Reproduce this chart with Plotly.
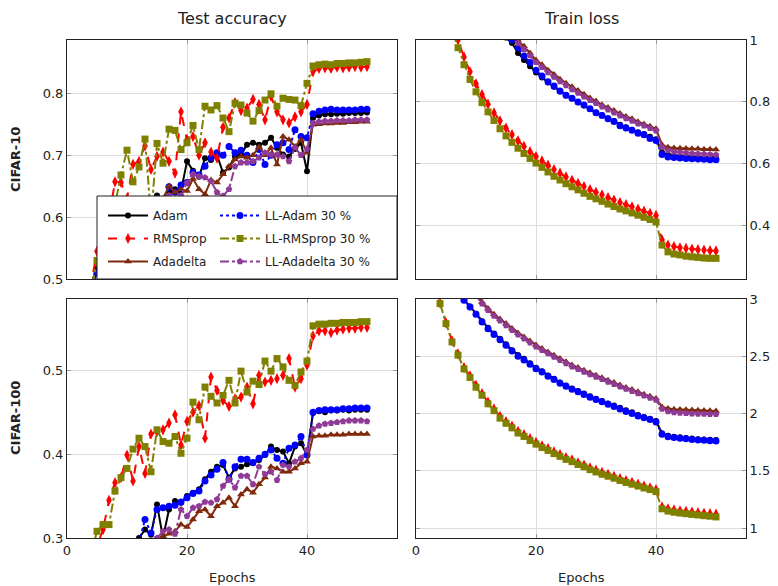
import plotly.graph_objects as go

epochs = list(range(1, 51))

# ---------- CIFAR-10 test accuracy ----------
adam_acc10 = [0.35, 0.42, 0.46, 0.49, 0.52, 0.54, 0.56, 0.57, 0.58, 0.59, 0.60, 0.60, 0.61, 0.62, 0.635, 0.62, 0.64, 0.645, 0.642, 0.69,
              0.675, 0.665, 0.695, 0.692, 0.70, 0.672, 0.68, 0.698, 0.701, 0.717, 0.72, 0.717, 0.72, 0.728, 0.712, 0.701, 0.698, 0.71, 0.72, 0.674,
              0.760, 0.764, 0.766, 0.766, 0.767, 0.767, 0.768, 0.768, 0.768, 0.769]
ll_adam_acc10 = [0.33, 0.40, 0.45, 0.48, 0.51, 0.53, 0.55, 0.56, 0.57, 0.58, 0.59, 0.59, 0.60, 0.60, 0.61, 0.62, 0.649, 0.64, 0.652, 0.656,
                 0.672, 0.668, 0.682, 0.696, 0.704, 0.70, 0.714, 0.704, 0.708, 0.70, 0.688, 0.709, 0.685, 0.70, 0.717, 0.72, 0.709, 0.741, 0.73, 0.728,
                 0.767, 0.771, 0.773, 0.774, 0.773, 0.773, 0.773, 0.773, 0.774, 0.774]
rmsprop_acc10 = [0.40, 0.44, 0.47, 0.49, 0.545, 0.52, 0.60, 0.657, 0.656, 0.63, 0.685, 0.69, 0.715, 0.677, 0.698, 0.705, 0.69, 0.671, 0.77, 0.725,
                 0.73, 0.70, 0.72, 0.705, 0.695, 0.745, 0.76, 0.785, 0.772, 0.776, 0.79, 0.782, 0.757, 0.795, 0.77, 0.757, 0.752, 0.762, 0.77, 0.782,
                 0.835, 0.840, 0.841, 0.840, 0.842, 0.841, 0.842, 0.843, 0.842, 0.843]
ll_rmsprop_acc10 = [0.38, 0.42, 0.45, 0.48, 0.53, 0.50, 0.57, 0.62, 0.668, 0.708, 0.657, 0.681, 0.726, 0.60, 0.719, 0.687, 0.742, 0.74, 0.709, 0.72,
                    0.748, 0.709, 0.779, 0.773, 0.78, 0.76, 0.738, 0.784, 0.781, 0.768, 0.755, 0.772, 0.789, 0.799, 0.779, 0.792, 0.79, 0.789, 0.78, 0.816,
                    0.844, 0.846, 0.847, 0.846, 0.848, 0.848, 0.849, 0.849, 0.850, 0.851]
adadelta_acc10 = [0.30, 0.37, 0.42, 0.46, 0.49, 0.52, 0.54, 0.56, 0.57, 0.58, 0.59, 0.60, 0.61, 0.615, 0.62, 0.63, 0.65, 0.64, 0.645, 0.642,
                  0.662, 0.645, 0.637, 0.66, 0.656, 0.669, 0.682, 0.693, 0.698, 0.696, 0.70, 0.713, 0.70, 0.712, 0.685, 0.73, 0.725, 0.714, 0.725, 0.704,
                  0.749, 0.750, 0.751, 0.751, 0.752, 0.752, 0.753, 0.753, 0.754, 0.754]
ll_adadelta_acc10 = [0.28, 0.35, 0.40, 0.44, 0.47, 0.50, 0.52, 0.54, 0.55, 0.56, 0.57, 0.58, 0.59, 0.60, 0.61, 0.62, 0.635, 0.63, 0.635, 0.655,
                     0.669, 0.666, 0.664, 0.658, 0.64, 0.634, 0.645, 0.682, 0.688, 0.688, 0.69, 0.696, 0.704, 0.701, 0.701, 0.698, 0.69, 0.712, 0.70, 0.71,
                     0.752, 0.754, 0.755, 0.755, 0.756, 0.756, 0.756, 0.757, 0.757, 0.757]

# ---------- CIFAR-10 train loss ----------
adam_loss10 = [2.0, 1.8, 1.64, 1.51, 1.41, 1.33, 1.26, 1.2, 1.15, 1.11, 1.08, 1.06, 1.04, 1.025, 1.008, 0.99, 0.958, 0.935, 0.915, 0.895,
               0.878, 0.862, 0.848, 0.833, 0.82, 0.81, 0.798, 0.788, 0.776, 0.765, 0.756, 0.746, 0.737, 0.725, 0.717, 0.709, 0.701, 0.695, 0.686, 0.678,
               0.635, 0.628, 0.625, 0.623, 0.622, 0.621, 0.620, 0.619, 0.619, 0.618]
ll_adam_loss10 = [2.0, 1.8, 1.65, 1.52, 1.42, 1.34, 1.27, 1.21, 1.16, 1.12, 1.09, 1.07, 1.05, 1.035, 1.018, 1.0, 0.975, 0.948, 0.927, 0.902,
                  0.883, 0.865, 0.851, 0.835, 0.821, 0.811, 0.799, 0.789, 0.777, 0.764, 0.755, 0.745, 0.736, 0.722, 0.715, 0.707, 0.698, 0.693, 0.681, 0.674,
                  0.629, 0.621, 0.619, 0.617, 0.616, 0.615, 0.614, 0.613, 0.612, 0.612]
rmsprop_loss10 = [1.9, 1.6, 1.4, 1.25, 1.14, 1.07, 1.0, 0.945, 0.897, 0.858, 0.823, 0.792, 0.764, 0.738, 0.714, 0.693, 0.673, 0.655, 0.638, 0.622,
                  0.608, 0.594, 0.58, 0.568, 0.556, 0.545, 0.535, 0.525, 0.515, 0.506, 0.498, 0.489, 0.481, 0.473, 0.466, 0.459, 0.452, 0.445, 0.438, 0.431,
                  0.352, 0.335, 0.330, 0.326, 0.324, 0.322, 0.320, 0.319, 0.317, 0.316]
ll_rmsprop_loss10 = [1.85, 1.55, 1.35, 1.2, 1.1, 1.03, 0.975, 0.92, 0.872, 0.832, 0.797, 0.767, 0.739, 0.712, 0.689, 0.668, 0.649, 0.632, 0.616, 0.601,
                     0.587, 0.572, 0.558, 0.546, 0.534, 0.524, 0.514, 0.503, 0.493, 0.485, 0.477, 0.468, 0.460, 0.452, 0.446, 0.439, 0.432, 0.425, 0.418, 0.410,
                     0.335, 0.313, 0.306, 0.303, 0.299, 0.297, 0.295, 0.293, 0.292, 0.292]
adadelta_loss10 = [2.1, 1.9, 1.75, 1.62, 1.52, 1.43, 1.35, 1.29, 1.23, 1.18, 1.14, 1.11, 1.08, 1.06, 1.04, 1.02, 1.0, 0.98, 0.958, 0.935,
                   0.92, 0.902, 0.888, 0.873, 0.86, 0.848, 0.836, 0.824, 0.812, 0.802, 0.79, 0.781, 0.771, 0.762, 0.752, 0.745, 0.735, 0.728, 0.72, 0.712,
                   0.66, 0.652, 0.65, 0.649, 0.648, 0.647, 0.647, 0.646, 0.646, 0.645]
ll_adadelta_loss10 = [2.1, 1.9, 1.74, 1.61, 1.51, 1.42, 1.34, 1.28, 1.22, 1.17, 1.13, 1.10, 1.07, 1.05, 1.03, 1.01, 0.99, 0.97, 0.95, 0.928,
                      0.912, 0.895, 0.88, 0.866, 0.853, 0.84, 0.828, 0.816, 0.805, 0.795, 0.784, 0.774, 0.764, 0.755, 0.746, 0.738, 0.729, 0.722, 0.714, 0.706,
                      0.652, 0.642, 0.638, 0.636, 0.634, 0.632, 0.631, 0.63, 0.629, 0.628]

# ---------- CIFAR-100 test accuracy ----------
adam_acc100 = [0.15, 0.18, 0.21, 0.23, 0.25, 0.26, 0.27, 0.28, 0.285, 0.29, 0.295, 0.30, 0.31, 0.304, 0.34, 0.30, 0.334, 0.344, 0.342, 0.35,
               0.354, 0.358, 0.37, 0.379, 0.385, 0.387, 0.372, 0.383, 0.385, 0.388, 0.389, 0.393, 0.399, 0.409, 0.405, 0.403, 0.389, 0.409, 0.413, 0.399,
               0.449, 0.451, 0.450, 0.452, 0.452, 0.453, 0.452, 0.453, 0.453, 0.453]
ll_adam_acc100 = [0.14, 0.17, 0.20, 0.22, 0.24, 0.25, 0.26, 0.27, 0.28, 0.285, 0.29, 0.295, 0.322, 0.306, 0.334, 0.336, 0.338, 0.339, 0.343, 0.348,
                  0.353, 0.356, 0.368, 0.375, 0.382, 0.39, 0.37, 0.385, 0.394, 0.394, 0.39, 0.395, 0.40, 0.405, 0.395, 0.389, 0.407, 0.411, 0.421, 0.399,
                  0.450, 0.452, 0.453, 0.453, 0.453, 0.454, 0.454, 0.455, 0.455, 0.455]
rmsprop_acc100 = [0.15, 0.20, 0.24, 0.27, 0.29, 0.31, 0.345, 0.366, 0.372, 0.399, 0.368, 0.409, 0.377, 0.424, 0.427, 0.429, 0.437, 0.447, 0.411, 0.439,
                  0.45, 0.458, 0.419, 0.492, 0.476, 0.464, 0.457, 0.466, 0.468, 0.48, 0.46, 0.494, 0.486, 0.488, 0.49, 0.494, 0.514, 0.48, 0.49, 0.506,
                  0.541, 0.547, 0.547, 0.545, 0.548, 0.549, 0.550, 0.550, 0.551, 0.551]
ll_rmsprop_acc100 = [0.15, 0.20, 0.24, 0.28, 0.308, 0.316, 0.316, 0.356, 0.372, 0.383, 0.406, 0.419, 0.409, 0.379, 0.429, 0.415, 0.413, 0.421, 0.401, 0.419,
                     0.462, 0.441, 0.48, 0.469, 0.461, 0.47, 0.488, 0.461, 0.499, 0.474, 0.487, 0.483, 0.511, 0.499, 0.514, 0.504, 0.488, 0.482, 0.498, 0.511,
                     0.553, 0.555, 0.555, 0.556, 0.556, 0.557, 0.557, 0.557, 0.558, 0.558]
adadelta_acc100 = [0.12, 0.15, 0.18, 0.20, 0.22, 0.23, 0.24, 0.25, 0.26, 0.27, 0.275, 0.28, 0.285, 0.29, 0.295, 0.302, 0.305, 0.308, 0.316, 0.313,
                   0.322, 0.332, 0.334, 0.326, 0.338, 0.342, 0.348, 0.338, 0.352, 0.358, 0.354, 0.364, 0.372, 0.385, 0.383, 0.379, 0.379, 0.383, 0.389, 0.391,
                   0.421, 0.422, 0.422, 0.423, 0.423, 0.423, 0.424, 0.424, 0.424, 0.424]
ll_adadelta_acc100 = [0.12, 0.15, 0.18, 0.20, 0.22, 0.235, 0.245, 0.255, 0.265, 0.27, 0.28, 0.285, 0.29, 0.295, 0.30, 0.308, 0.31, 0.305, 0.334, 0.326,
                      0.336, 0.338, 0.343, 0.342, 0.346, 0.362, 0.37, 0.36, 0.374, 0.374, 0.364, 0.385, 0.376, 0.379, 0.369, 0.387, 0.385, 0.391, 0.395, 0.405,
                      0.430, 0.434, 0.436, 0.437, 0.438, 0.439, 0.440, 0.440, 0.440, 0.439]

# ---------- CIFAR-100 train loss ----------
adam_loss100 = [5.0, 4.5, 4.0, 3.6, 3.36, 3.17, 3.07, 2.995, 2.935, 2.872, 2.806, 2.748, 2.698, 2.652, 2.604, 2.553, 2.51, 2.478, 2.438, 2.4,
                2.37, 2.333, 2.304, 2.271, 2.245, 2.219, 2.196, 2.174, 2.15, 2.129, 2.109, 2.088, 2.07, 2.05, 2.028, 2.01, 1.986, 1.969, 1.954, 1.935,
                1.828, 1.806, 1.798, 1.792, 1.786, 1.781, 1.776, 1.773, 1.77, 1.768]
ll_adam_loss100 = [5.0, 4.5, 4.0, 3.6, 3.35, 3.15, 3.07, 2.99, 2.93, 2.866, 2.80, 2.741, 2.69, 2.645, 2.596, 2.545, 2.50, 2.468, 2.43, 2.392,
                   2.363, 2.326, 2.297, 2.264, 2.238, 2.212, 2.189, 2.167, 2.143, 2.122, 2.102, 2.08, 2.062, 2.04, 2.018, 2.0, 1.978, 1.962, 1.947, 1.927,
                   1.82, 1.798, 1.79, 1.785, 1.779, 1.774, 1.769, 1.766, 1.763, 1.761]
rmsprop_loss100 = [4.25, 3.75, 3.32, 2.965, 2.79, 2.635, 2.52, 2.40, 2.33, 2.245, 2.175, 2.10, 2.04, 1.975, 1.93, 1.89, 1.845, 1.815, 1.78, 1.748,
                   1.718, 1.693, 1.665, 1.641, 1.615, 1.595, 1.57, 1.55, 1.525, 1.505, 1.486, 1.469, 1.451, 1.431, 1.414, 1.399, 1.383, 1.366, 1.352, 1.335,
                   1.185, 1.168, 1.158, 1.151, 1.145, 1.139, 1.134, 1.129, 1.125, 1.121]
ll_rmsprop_loss100 = [4.2, 3.7, 3.3, 2.96, 2.785, 2.625, 2.51, 2.39, 2.315, 2.23, 2.16, 2.085, 2.025, 1.96, 1.915, 1.875, 1.83, 1.80, 1.765, 1.733,
                      1.703, 1.678, 1.65, 1.626, 1.60, 1.58, 1.555, 1.535, 1.51, 1.49, 1.47, 1.453, 1.435, 1.415, 1.398, 1.383, 1.367, 1.35, 1.336, 1.318,
                      1.168, 1.148, 1.138, 1.131, 1.125, 1.119, 1.114, 1.108, 1.103, 1.097]
adadelta_loss100 = [5.5, 5.0, 4.6, 4.2, 3.9, 3.65, 3.45, 3.3, 3.17, 3.06, 2.974, 2.916, 2.866, 2.825, 2.785, 2.743, 2.703, 2.669, 2.634, 2.598,
                    2.567, 2.538, 2.509, 2.48, 2.452, 2.424, 2.401, 2.378, 2.355, 2.334, 2.313, 2.291, 2.27, 2.248, 2.228, 2.209, 2.189, 2.169, 2.151, 2.131,
                    2.058, 2.044, 2.038, 2.035, 2.032, 2.03, 2.028, 2.026, 2.025, 2.023]
ll_adadelta_loss100 = [5.4, 4.9, 4.5, 4.1, 3.8, 3.6, 3.4, 3.25, 3.13, 3.03, 2.96, 2.902, 2.852, 2.81, 2.77, 2.728, 2.688, 2.654, 2.619, 2.584,
                       2.553, 2.524, 2.495, 2.466, 2.438, 2.41, 2.387, 2.364, 2.341, 2.32, 2.299, 2.277, 2.256, 2.234, 2.214, 2.195, 2.175, 2.155, 2.137, 2.118,
                       2.04, 2.018, 2.01, 2.005, 2.002, 1.999, 1.997, 1.996, 1.995, 1.994]

series_names = ["Adam", "LL-Adam 30 %", "RMSprop", "LL-RMSprop 30 %", "Adadelta", "LL-Adadelta 30 %"]
colors = ["#000000", "#0000ff", "#ff0000", "#808000", "#7f2a0a", "#8e3a96"]
dashes = ["solid", "dot", "dash", "dashdot", "solid", "dashdot"]
symbols = ["circle", "circle", "diamond-tall", "square", "triangle-up", "pentagon"]
msizes = [6, 7, 8, 7, 7, 7]
legend_ids = ["legend", "legend2", "legend", "legend2", "legend", "legend2"]

panels = [
    ("x", "y", [adam_acc10, ll_adam_acc10, rmsprop_acc10, ll_rmsprop_acc10, adadelta_acc10, ll_adadelta_acc10]),
    ("x2", "y2", [adam_loss10, ll_adam_loss10, rmsprop_loss10, ll_rmsprop_loss10, adadelta_loss10, ll_adadelta_loss10]),
    ("x3", "y3", [adam_acc100, ll_adam_acc100, rmsprop_acc100, ll_rmsprop_acc100, adadelta_acc100, ll_adadelta_acc100]),
    ("x4", "y4", [adam_loss100, ll_adam_loss100, rmsprop_loss100, ll_rmsprop_loss100, adadelta_loss100, ll_adadelta_loss100]),
]

fig = go.Figure()
for pi, (xa, ya, data) in enumerate(panels):
    for i, vals in enumerate(data):
        fig.add_trace(go.Scatter(
            x=epochs, y=vals, xaxis=xa, yaxis=ya, mode="lines+markers",
            name=series_names[i], legend=legend_ids[i], legendgroup=series_names[i],
            showlegend=(pi == 0),
            line=dict(color=colors[i], width=2, dash=dashes[i]),
            marker=dict(color=colors[i], symbol=symbols[i], size=msizes[i], line=dict(width=0)),
        ))

# page body has an 8px margin; figure is sized to fit inside the window
OFF = 8
W, H = 770, 578
def px(x): return (x - OFF) / W
def py(y): return 1 - (y - OFF) / H

xl = [px(67), px(397)]
xr = [px(416), px(746)]
yt = [py(279), py(40)]
yb = [py(538), py(299)]

grid = "#dcdcdc"
font_family = "DejaVu Sans"
common_x = dict(range=[0, 55], tickvals=[0, 20, 40], showgrid=True, gridcolor=grid, gridwidth=1,
                showline=True, linecolor="#222", linewidth=1, mirror="ticks", ticks="inside",
                ticklen=4, tickcolor="#999", zeroline=False, automargin=False,
                tickfont=dict(size=13, color="#222", family=font_family))
common_y = dict(showgrid=True, gridcolor=grid, gridwidth=1, showline=True, linecolor="#222", linewidth=1,
                mirror="ticks", ticks="inside", ticklen=4, tickcolor="#999", zeroline=False, automargin=False,
                tickfont=dict(size=13, color="#222", family=font_family))

fig.update_layout(
    width=W, height=H, margin=dict(l=0, r=0, t=0, b=0),
    paper_bgcolor="white", plot_bgcolor="white",
    font=dict(family=font_family, color="#222"),
    xaxis=dict(domain=xl, anchor="y", showticklabels=False, **common_x),
    yaxis=dict(domain=yt, anchor="x", range=[0.5, 0.886], tickvals=[0.5, 0.6, 0.7, 0.8], **common_y),
    xaxis2=dict(domain=xr, anchor="y2", showticklabels=False, **common_x),
    yaxis2=dict(domain=yt, anchor="x2", side="right", range=[0.225, 1.0], tickvals=[0.4, 0.6, 0.8, 1.0], **common_y),
    xaxis3=dict(domain=xl, anchor="y3", **common_x),
    yaxis3=dict(domain=yb, anchor="x3", range=[0.3, 0.585], tickvals=[0.3, 0.4, 0.5], **common_y),
    xaxis4=dict(domain=xr, anchor="y4", **common_x),
    yaxis4=dict(domain=yb, anchor="x4", side="right", range=[0.913, 3.0], tickvals=[1, 1.5, 2, 2.5, 3], **common_y),
    legend=dict(x=px(103), y=py(201), xanchor="left", yanchor="top", bgcolor="rgba(0,0,0,0)",
                borderwidth=0, font=dict(size=12, family=font_family, color="#222"),
                traceorder="grouped", tracegroupgap=4, itemwidth=40),
    legend2=dict(x=px(215), y=py(201), xanchor="left", yanchor="top", bgcolor="rgba(0,0,0,0)",
                 borderwidth=0, font=dict(size=12, family=font_family, color="#222"),
                 traceorder="grouped", tracegroupgap=4, itemwidth=40),
    shapes=[dict(type="rect", xref="paper", yref="paper", x0=px(97), x1=px(397), y0=py(279), y1=py(196),
                 fillcolor="white", line=dict(color="#222", width=1), layer="above")],
    showlegend=True,
)

ann = [
    dict(text="Test accuracy", x=px(232), y=py(18), font=dict(size=16)),
    dict(text="Train loss", x=px(581), y=py(19), font=dict(size=16)),
    dict(text="<b>CIFAR-10</b>", x=px(15), y=py(160), textangle=-90, font=dict(size=13)),
    dict(text="<b>CIFAR-100</b>", x=px(15), y=py(418), textangle=-90, font=dict(size=13)),
    dict(text="Epochs", x=px(232), y=py(577), font=dict(size=13)),
    dict(text="Epochs", x=px(581), y=py(577), font=dict(size=13)),
]
for a in ann:
    fig.add_annotation(xref="paper", yref="paper", showarrow=False, xanchor="center", yanchor="middle",
                       borderpad=0,
                       **{k: v for k, v in a.items() if k != "font"},
                       font=dict(family=font_family, color="#222", **a["font"]))

fig.write_html("out.html")
